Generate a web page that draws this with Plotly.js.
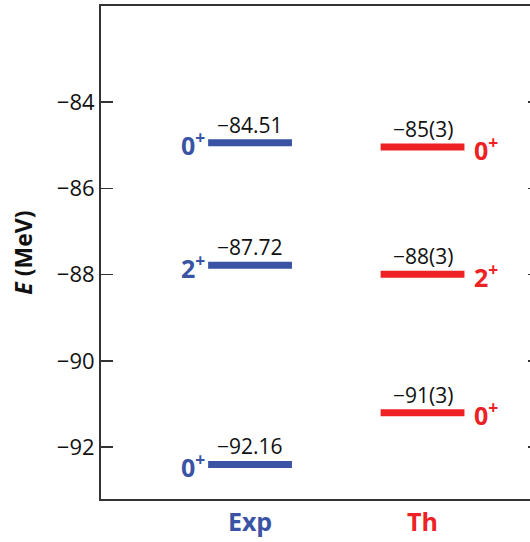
<!DOCTYPE html>
<html><head><meta charset="utf-8">
<script src="https://cdn.plot.ly/plotly-3.0.1.min.js"></script>
<style>html,body{margin:0;padding:0;overflow:hidden;background:#fff}</style>
</head><body><div id="chart"></div>
<script>
// Data
const columns = ["Exp", "Th"];
const columnPos = [1, 2];
const columnColors = ["#3a53a4", "#ee2124"];
const expLevels = [-84.94, -87.78, -92.40];
const expValueLabels = ["−84.51", "−87.72", "−92.16"];
const expSpins = ["0", "2", "0"];
const thLevels = [-85.04, -87.99, -91.20];
const thValueLabels = ["−85(3)", "−88(3)", "−91(3)"];
const thSpins = ["0", "2", "0"];
const halfWidth = 0.243;

const font = "Open Sans, Noto Sans, sans-serif";
const traces = [];
const annotations = [];

function addColumn(levels, values, spins, colIdx, spinSide) {
  const xc = columnPos[colIdx];
  const color = columnColors[colIdx];
  levels.forEach((e, i) => {
    traces.push({
      x: [xc - halfWidth, xc + halfWidth], y: [e, e],
      mode: "lines", line: {color: color, width: 7},
      hoverinfo: "skip", showlegend: false
    });
    annotations.push({
      x: xc, y: e, xref: "x", yref: "y", text: values[i],
      showarrow: false, yanchor: "bottom", yshift: 2,
      font: {family: font, size: 21, color: "#111"}
    });
    annotations.push({
      x: spinSide < 0 ? xc - halfWidth : xc + halfWidth, y: e, xref: "x", yref: "y",
      text: "<b>" + spins[i] + "<sup>+</sup></b>",
      showarrow: false, xanchor: spinSide < 0 ? "right" : "left", yanchor: "middle",
      xshift: spinSide < 0 ? -1 : 8, yshift: -1,
      font: {family: font, size: 25, color: color}
    });
  });
}
addColumn(expLevels, expValueLabels, expSpins, 0, -1);
addColumn(thLevels, thValueLabels, thSpins, 1, 1);

const layout = {
  width: 542, height: 542,
  margin: {l: 101, r: 2, t: 6, b: 43},
  paper_bgcolor: "#fff", plot_bgcolor: "#fff",
  showlegend: false,
  xaxis: {
    range: [0.136, 2.681], showgrid: false, zeroline: false,
    showline: true, mirror: true, linecolor: "#333", linewidth: 2,
    ticks: "", tickvals: columnPos,
    ticktext: columns.map((c, i) => "<b><span style='color:" + columnColors[i] + "'>" + c + "</span></b>"),
    tickfont: {family: font, size: 25}
  },
  yaxis: {
    range: [-93.2, -81.77], showgrid: false, zeroline: false,
    showline: true, mirror: "ticks", linecolor: "#333", linewidth: 2,
    ticks: "inside", ticklen: 12, tickwidth: 1.5, tickcolor: "#333",
    tickvals: [-92, -90, -88, -86, -84],
    ticktext: ["−92", "−90", "−88", "−86", "−84"],
    tickfont: {family: font, size: 22, color: "#111"},
    title: {text: "<b><i>E</i> (MeV)</b>", font: {family: font, size: 23, color: "#111"}, standoff: 18}
  },
  annotations: annotations
};
Plotly.newPlot("chart", traces, layout, {displayModeBar: false, staticPlot: true});
</script></body></html>
